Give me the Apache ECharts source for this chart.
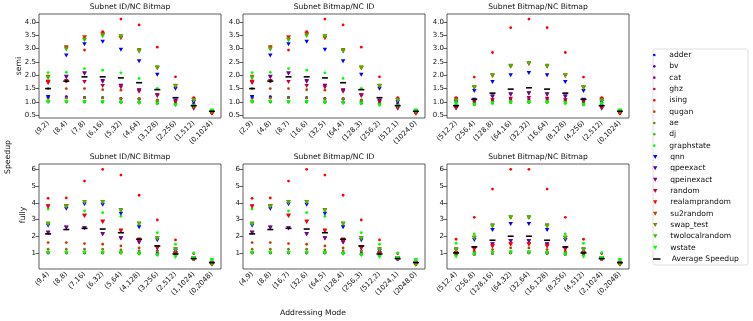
<!DOCTYPE html>
<html>
<head>
<meta charset="utf-8">
<script src="https://cdn.jsdelivr.net/npm/echarts@6.0.0/dist/echarts.min.js"></script>
<style>
html, body { margin: 0; padding: 0; background: #fff; }
#chart { width: 753px; height: 321px; }
</style>
</head>
<body>
<div id="chart"></div>
<script>
// benchmark names, in legend order (9 dot markers, then 9 triangle markers)
var names = ['adder', 'bv', 'cat', 'ghz', 'ising', 'qugan', 'ae', 'dj', 'graphstate',
  'qnn', 'qpeexact', 'qpeinexact', 'random', 'realamprandom', 'su2random', 'swap_test', 'twolocalrandom', 'wstate'];
var avgName = 'Average Speedup';
// brg colormap, 9 steps
var palette = ['#0000ff', '#4000bf', '#800080', '#bf0040', '#ff0000', '#bf4000', '#808000', '#40bf00', '#00ff00'];

var semiTicks = [0.5, 1.0, 1.5, 2.0, 2.5, 3.0, 3.5, 4.0];
var fullyTicks = [1, 2, 3, 4, 5, 6];

var catsSemiIdBm = ['(9,2)', '(8,4)', '(7,8)', '(6,16)', '(5,32)', '(4,64)', '(3,128)', '(2,256)', '(1,512)', '(0,1024)'];
var catsSemiBmId = ['(2,9)', '(4,8)', '(8,7)', '(16,6)', '(32,5)', '(64,4)', '(128,3)', '(256,2)', '(512,1)', '(1024,0)'];
var catsSemiBmBm = ['(512,2)', '(256,4)', '(128,8)', '(64,16)', '(32,32)', '(16,64)', '(8,128)', '(4,256)', '(2,512)', '(0,1024)'];
var catsFullyIdBm = ['(9,4)', '(8,8)', '(7,16)', '(6,32)', '(5,64)', '(4,128)', '(3,256)', '(2,512)', '(1,1024)', '(0,2048)'];
var catsFullyBmId = ['(4,9)', '(8,8)', '(16,7)', '(32,6)', '(64,5)', '(128,4)', '(256,3)', '(512,2)', '(1024,1)', '(2048,0)'];
var catsFullyBmBm = ['(512,4)', '(256,8)', '(128,16)', '(64,32)', '(32,64)', '(16,128)', '(8,256)', '(4,512)', '(2,1024)', '(0,2048)'];

// one row per benchmark (names order), last row = average speedup
var semiIdBm = [
  [1.20, 1.20, 1.17, 1.16, 1.13, 1.12, 1.06, 1.00, 1.02, 0.64],
  [1.18, 1.18, 1.16, 1.15, 1.12, 1.10, 1.04, 0.98, 0.95, 0.62],
  [1.02, 1.02, 1.02, 1.00, 1.00, 0.98, 0.96, 0.93, 0.85, 0.60],
  [1.00, 1.00, 1.00, 1.00, 0.99, 0.97, 0.95, 0.92, 0.82, 0.58],
  [1.78, 1.76, 2.94, 3.63, 4.10, 3.88, 3.05, 1.94, 1.16, 0.60],
  [1.50, 1.50, 1.50, 1.46, 1.44, 1.12, 1.08, 0.98, 0.80, 0.60],
  [1.13, 1.14, 1.16, 1.15, 1.12, 1.12, 1.06, 0.98, 0.90, 0.62],
  [1.00, 1.00, 1.00, 1.00, 0.98, 0.96, 0.94, 0.90, 0.85, 0.66],
  [2.10, 2.11, 2.25, 2.19, 2.09, 1.88, 1.51, 0.90, 0.82, 0.69],
  [1.19, 2.74, 3.16, 3.25, 2.95, 2.52, 2.02, 1.49, 1.00, 0.64],
  [1.76, 1.94, 2.06, 1.78, 1.61, 1.44, 1.25, 1.05, 0.82, 0.60],
  [1.74, 1.92, 2.06, 1.76, 1.60, 1.42, 1.22, 1.03, 0.80, 0.59],
  [1.71, 1.78, 1.75, 1.60, 1.54, 1.38, 1.25, 1.00, 0.75, 0.56],
  [1.75, 3.04, 3.41, 3.55, 3.39, 2.90, 2.26, 1.58, 1.08, 0.58],
  [1.94, 3.04, 3.41, 3.52, 3.39, 2.92, 2.27, 1.60, 1.06, 0.60],
  [1.93, 2.98, 3.33, 3.50, 3.46, 2.94, 2.29, 1.61, 1.06, 0.62],
  [1.89, 2.96, 3.31, 3.46, 3.46, 2.89, 2.29, 1.60, 1.05, 0.66],
  [1.00, 1.00, 1.00, 1.00, 0.98, 0.96, 0.94, 0.88, 0.84, 0.68],
  [1.50, 1.78, 1.94, 1.94, 1.90, 1.72, 1.46, 1.16, 0.86, 0.65]
];
var semiBmId = [
  [1.20, 1.20, 1.17, 1.16, 1.13, 1.12, 1.06, 1.00, 1.02, 0.64],
  [1.18, 1.18, 1.16, 1.15, 1.12, 1.10, 1.04, 0.98, 0.95, 0.62],
  [1.02, 1.02, 1.02, 1.00, 1.00, 0.98, 0.96, 0.93, 0.85, 0.60],
  [1.00, 1.00, 1.00, 1.00, 0.99, 0.97, 0.95, 0.92, 0.82, 0.58],
  [1.78, 1.76, 2.94, 3.63, 4.10, 3.88, 3.05, 1.94, 1.16, 0.60],
  [1.50, 1.50, 1.50, 1.46, 1.44, 1.12, 1.08, 0.98, 0.80, 0.60],
  [1.13, 1.14, 1.16, 1.15, 1.12, 1.12, 1.06, 0.98, 0.90, 0.62],
  [1.00, 1.00, 1.00, 1.00, 0.98, 0.96, 0.94, 0.90, 0.85, 0.66],
  [2.10, 2.11, 2.25, 2.19, 2.09, 1.88, 1.51, 0.90, 0.82, 0.69],
  [1.19, 2.74, 3.16, 3.25, 2.95, 2.52, 2.02, 1.49, 1.00, 0.64],
  [1.76, 1.94, 2.06, 1.78, 1.61, 1.44, 1.25, 1.05, 0.82, 0.60],
  [1.74, 1.92, 2.06, 1.76, 1.60, 1.42, 1.22, 1.03, 0.80, 0.59],
  [1.71, 1.78, 1.75, 1.60, 1.54, 1.38, 1.25, 1.00, 0.75, 0.56],
  [1.75, 3.04, 3.41, 3.55, 3.39, 2.90, 2.26, 1.58, 1.08, 0.58],
  [1.94, 3.04, 3.41, 3.52, 3.39, 2.92, 2.27, 1.60, 1.06, 0.60],
  [1.93, 2.98, 3.33, 3.50, 3.46, 2.94, 2.29, 1.61, 1.06, 0.62],
  [1.89, 2.96, 3.31, 3.46, 3.46, 2.89, 2.29, 1.60, 1.05, 0.66],
  [1.00, 1.00, 1.00, 1.00, 0.98, 0.96, 0.94, 0.88, 0.84, 0.68],
  [1.50, 1.78, 1.94, 1.94, 1.90, 1.72, 1.46, 1.16, 0.86, 0.65]
];
var semiBmBm = [
  [1.00, 1.05, 1.10, 1.12, 1.12, 1.12, 1.10, 1.05, 1.00, 0.64],
  [0.98, 1.02, 1.05, 1.08, 1.08, 1.08, 1.05, 1.02, 0.98, 0.62],
  [0.85, 0.92, 0.98, 1.00, 1.00, 1.00, 0.98, 0.92, 0.85, 0.60],
  [0.82, 0.90, 0.96, 0.98, 0.98, 0.98, 0.96, 0.90, 0.82, 0.58],
  [1.16, 1.93, 2.85, 3.78, 4.10, 3.78, 2.85, 1.93, 1.16, 0.60],
  [0.80, 0.98, 1.06, 1.12, 1.15, 1.12, 1.06, 0.98, 0.80, 0.60],
  [1.05, 1.05, 1.00, 1.02, 1.02, 1.02, 1.00, 1.05, 1.05, 0.62],
  [0.92, 0.92, 0.96, 0.98, 0.99, 0.98, 0.96, 0.92, 0.92, 0.66],
  [0.90, 0.90, 0.95, 0.98, 0.99, 0.98, 0.95, 0.90, 0.90, 0.69],
  [1.00, 1.41, 1.75, 2.00, 2.08, 2.00, 1.75, 1.41, 1.00, 0.64],
  [0.82, 1.08, 1.21, 1.29, 1.33, 1.29, 1.21, 1.08, 0.82, 0.60],
  [0.80, 1.06, 1.19, 1.27, 1.32, 1.27, 1.19, 1.06, 0.80, 0.59],
  [0.75, 0.98, 1.06, 1.12, 1.15, 1.12, 1.06, 0.98, 0.75, 0.56],
  [1.10, 1.52, 1.97, 2.32, 2.42, 2.32, 1.97, 1.52, 1.10, 0.58],
  [1.06, 1.54, 1.99, 2.34, 2.44, 2.34, 1.99, 1.54, 1.06, 0.60],
  [1.06, 1.55, 2.00, 2.35, 2.45, 2.35, 2.00, 1.55, 1.06, 0.62],
  [1.04, 1.53, 1.99, 2.34, 2.44, 2.34, 1.99, 1.53, 1.04, 0.66],
  [0.92, 0.90, 0.95, 0.98, 0.99, 0.98, 0.95, 0.90, 0.92, 0.68],
  [0.86, 1.10, 1.33, 1.48, 1.53, 1.48, 1.33, 1.10, 0.86, 0.65]
];
var fullyIdBm = [
  [1.05, 1.05, 1.05, 1.05, 1.05, 1.02, 1.00, 0.95, 0.66, 0.42],
  [1.03, 1.03, 1.03, 1.03, 1.02, 1.00, 0.95, 0.90, 0.64, 0.40],
  [1.00, 1.00, 1.00, 1.00, 1.00, 0.97, 0.92, 0.86, 0.62, 0.38],
  [1.00, 1.00, 1.00, 1.00, 1.00, 0.97, 0.90, 0.84, 0.60, 0.36],
  [4.27, 4.29, 5.30, 6.00, 5.66, 4.45, 2.97, 1.78, 0.96, 0.45],
  [1.62, 1.62, 1.56, 1.52, 1.42, 1.30, 1.14, 1.00, 0.60, 0.32],
  [1.22, 1.22, 1.22, 1.22, 1.18, 1.12, 1.10, 1.00, 0.64, 0.30],
  [1.05, 1.05, 1.05, 1.05, 1.04, 1.00, 0.92, 0.85, 0.68, 0.50],
  [3.63, 3.79, 3.51, 3.41, 3.19, 2.70, 2.21, 1.52, 1.00, 0.62],
  [2.63, 3.65, 3.91, 3.89, 3.35, 2.53, 1.76, 1.12, 0.68, 0.42],
  [2.23, 2.52, 2.48, 2.14, 1.88, 1.64, 1.30, 0.96, 0.66, 0.40],
  [2.20, 2.50, 2.47, 2.12, 1.86, 1.62, 1.28, 0.95, 0.65, 0.40],
  [3.79, 3.79, 3.21, 2.85, 2.35, 1.78, 1.32, 0.94, 0.64, 0.38],
  [3.77, 3.77, 3.24, 2.88, 2.32, 1.80, 1.36, 0.98, 0.66, 0.40],
  [2.75, 3.79, 4.03, 4.03, 3.55, 2.75, 1.88, 1.20, 0.64, 0.30],
  [2.74, 3.79, 4.05, 4.05, 3.55, 2.75, 1.88, 1.22, 0.66, 0.32],
  [2.72, 3.77, 4.02, 4.02, 3.52, 2.74, 1.86, 1.18, 0.68, 0.36],
  [1.00, 1.00, 1.00, 1.00, 1.00, 0.94, 0.86, 0.76, 0.70, 0.56],
  [2.14, 2.40, 2.47, 2.43, 2.21, 1.82, 1.42, 0.94, 0.66, 0.42]
];
var fullyBmId = [
  [1.05, 1.05, 1.05, 1.05, 1.05, 1.02, 1.00, 0.95, 0.66, 0.42],
  [1.03, 1.03, 1.03, 1.03, 1.02, 1.00, 0.95, 0.90, 0.64, 0.40],
  [1.00, 1.00, 1.00, 1.00, 1.00, 0.97, 0.92, 0.86, 0.62, 0.38],
  [1.00, 1.00, 1.00, 1.00, 1.00, 0.97, 0.90, 0.84, 0.60, 0.36],
  [4.27, 4.29, 5.30, 6.00, 5.66, 4.45, 2.97, 1.78, 0.96, 0.45],
  [1.62, 1.62, 1.56, 1.52, 1.42, 1.30, 1.14, 1.00, 0.60, 0.32],
  [1.22, 1.22, 1.22, 1.22, 1.18, 1.12, 1.10, 1.00, 0.64, 0.30],
  [1.05, 1.05, 1.05, 1.05, 1.04, 1.00, 0.92, 0.85, 0.68, 0.50],
  [3.63, 3.79, 3.51, 3.41, 3.19, 2.70, 2.21, 1.52, 1.00, 0.62],
  [2.63, 3.65, 3.91, 3.89, 3.35, 2.53, 1.76, 1.12, 0.68, 0.42],
  [2.23, 2.52, 2.48, 2.14, 1.88, 1.64, 1.30, 0.96, 0.66, 0.40],
  [2.20, 2.50, 2.47, 2.12, 1.86, 1.62, 1.28, 0.95, 0.65, 0.40],
  [3.79, 3.79, 3.21, 2.85, 2.35, 1.78, 1.32, 0.94, 0.64, 0.38],
  [3.77, 3.77, 3.24, 2.88, 2.32, 1.80, 1.36, 0.98, 0.66, 0.40],
  [2.75, 3.79, 4.03, 4.03, 3.55, 2.75, 1.88, 1.20, 0.64, 0.30],
  [2.74, 3.79, 4.05, 4.05, 3.55, 2.75, 1.88, 1.22, 0.66, 0.32],
  [2.72, 3.77, 4.02, 4.02, 3.52, 2.74, 1.86, 1.18, 0.68, 0.36],
  [1.00, 1.00, 1.00, 1.00, 1.00, 0.94, 0.86, 0.76, 0.70, 0.56],
  [2.14, 2.40, 2.47, 2.43, 2.21, 1.82, 1.42, 0.94, 0.66, 0.42]
];
var fullyBmBm = [
  [1.05, 1.00, 1.04, 1.05, 1.05, 1.04, 1.00, 1.05, 0.66, 0.42],
  [1.00, 0.98, 1.02, 1.04, 1.04, 1.02, 0.98, 1.00, 0.64, 0.40],
  [0.90, 0.92, 0.98, 1.00, 1.00, 0.98, 0.92, 0.90, 0.62, 0.38],
  [0.88, 0.90, 0.96, 1.00, 1.00, 0.96, 0.90, 0.88, 0.60, 0.36],
  [1.82, 3.13, 4.82, 6.00, 6.00, 4.82, 3.13, 1.82, 0.96, 0.45],
  [0.92, 1.10, 1.20, 1.30, 1.30, 1.20, 1.10, 0.92, 0.60, 0.32],
  [1.10, 1.00, 1.00, 1.08, 1.08, 1.00, 1.00, 1.10, 0.64, 0.30],
  [0.95, 0.92, 1.00, 1.02, 1.02, 1.00, 0.92, 0.95, 0.68, 0.50],
  [1.58, 2.14, 2.62, 3.10, 3.10, 2.62, 2.14, 1.58, 1.02, 0.62],
  [1.16, 1.78, 2.37, 2.73, 2.73, 2.37, 1.78, 1.16, 0.68, 0.42],
  [0.98, 1.30, 1.52, 1.72, 1.72, 1.52, 1.30, 0.98, 0.66, 0.40],
  [0.96, 1.28, 1.50, 1.70, 1.70, 1.50, 1.28, 0.96, 0.65, 0.40],
  [0.94, 1.20, 1.38, 1.52, 1.52, 1.38, 1.20, 0.94, 0.64, 0.38],
  [0.98, 1.26, 1.40, 1.50, 1.50, 1.40, 1.26, 0.98, 0.66, 0.40],
  [1.20, 1.90, 2.60, 3.10, 3.10, 2.60, 1.90, 1.20, 0.64, 0.30],
  [1.22, 1.92, 2.65, 3.13, 3.13, 2.65, 1.92, 1.22, 0.66, 0.32],
  [1.18, 1.88, 2.60, 3.12, 3.12, 2.60, 1.88, 1.18, 0.68, 0.36],
  [0.78, 0.92, 1.00, 1.02, 1.02, 1.00, 0.92, 0.78, 0.70, 0.56],
  [1.00, 1.36, 1.76, 2.00, 2.00, 1.76, 1.36, 1.00, 0.66, 0.42]
];

var triPath = 'path://M0,0L10,0L5,9Z';
var dashPath = 'path://M0,0L10,0L10,2L0,2Z';
var font = 'DejaVu Sans';

var panels = [
  { title: 'Subnet ID/NC Bitmap', cats: catsSemiIdBm, rows: semiIdBm, left: 39, top: 14, h: 104, min: 0.4, max: 4.29, ticks: semiTicks, dec: 1 },
  { title: 'Subnet Bitmap/NC ID', cats: catsSemiBmId, rows: semiBmId, left: 243, top: 14, h: 104, min: 0.4, max: 4.29, ticks: semiTicks, dec: 1 },
  { title: 'Subnet Bitmap/NC Bitmap', cats: catsSemiBmBm, rows: semiBmBm, left: 447, top: 14, h: 104, min: 0.4, max: 4.29, ticks: semiTicks, dec: 1 },
  { title: 'Subnet ID/NC Bitmap', cats: catsFullyIdBm, rows: fullyIdBm, left: 39, top: 164, h: 105, min: 0.04, max: 6.32, ticks: fullyTicks, dec: 0 },
  { title: 'Subnet Bitmap/NC ID', cats: catsFullyBmId, rows: fullyBmId, left: 243, top: 164, h: 105, min: 0.04, max: 6.32, ticks: fullyTicks, dec: 0 },
  { title: 'Subnet Bitmap/NC Bitmap', cats: catsFullyBmBm, rows: fullyBmBm, left: 447, top: 164, h: 105, min: 0.04, max: 6.32, ticks: fullyTicks, dec: 0 }
];

var option = {
  animation: false,
  textStyle: { fontFamily: font },
  grid: [], xAxis: [], yAxis: [], series: [],
  legend: [
    { data: names.slice(0, 9), orient: 'vertical', left: 653, top: 50, padding: 0, itemWidth: 20, itemHeight: 2.6, itemGap: 1.33,
      selectedMode: false, textStyle: { fontSize: 7.6, lineHeight: 10, color: '#111', fontFamily: font } },
    { data: names.slice(9), orient: 'vertical', left: 653, top: 152, padding: 0, itemWidth: 20, itemHeight: 4, itemGap: 1.33,
      selectedMode: false, textStyle: { fontSize: 7.6, lineHeight: 10, color: '#111', fontFamily: font } },
    { data: [avgName], orient: 'vertical', left: 653, top: 254, padding: 0, itemWidth: 20, itemHeight: 1.5,
      selectedMode: false, textStyle: { fontSize: 7.6, lineHeight: 10, color: '#111', fontFamily: font } }
  ],
  graphic: [
    { type: 'rect', shape: { x: 653, y: 49, width: 95, height: 216, r: 2 }, style: { fill: '#fff', stroke: '#d5d5d5', lineWidth: 0.8 } },
    { type: 'text', x: 8, y: 157, rotation: Math.PI / 2, style: { text: 'Speedup', fontSize: 7.7, fontFamily: font, fill: '#111', align: 'center', verticalAlign: 'middle' } },
    { type: 'text', x: 313, y: 313, style: { text: 'Addressing Mode', fontSize: 7.7, fontFamily: font, fill: '#111', align: 'center', verticalAlign: 'middle' } },
    { type: 'text', x: 19, y: 66, rotation: Math.PI / 2, style: { text: 'semi', fontSize: 7.7, fontFamily: font, fill: '#111', align: 'center', verticalAlign: 'middle' } },
    { type: 'text', x: 23, y: 215, rotation: Math.PI / 2, style: { text: 'fully', fontSize: 7.7, fontFamily: font, fill: '#111', align: 'center', verticalAlign: 'middle' } }
  ]
};

panels.forEach(function (p, i) {
  option.grid.push({ left: p.left, top: p.top, width: 182, height: p.h, show: true, borderColor: '#333', borderWidth: 0.8,
    containLabel: false, outerBoundsMode: 'none' });
  option.graphic.push({ type: 'text', x: p.left + 91, y: p.top - 7, style: { text: p.title, fontSize: 7.6, fontFamily: font,
    fill: '#111', align: 'center', verticalAlign: 'middle' } });
  option.xAxis.push({
    type: 'category', gridIndex: i, data: p.cats, boundaryGap: true,
    axisLine: { show: false },
    axisTick: { alignWithLabel: true, length: 3.5, lineStyle: { color: '#333', width: 0.8 } },
    axisLabel: { rotate: 45, interval: 0, fontSize: 7, margin: 4, color: '#111', fontFamily: font },
    splitLine: { show: false }
  });
  option.yAxis.push({
    type: 'value', gridIndex: i, min: p.min, max: p.max,
    axisLine: { show: false },
    axisTick: { show: true, length: 3.5, customValues: p.ticks, lineStyle: { color: '#333', width: 0.8 } },
    axisLabel: { customValues: p.ticks, fontSize: 7, margin: 3, color: '#111', fontFamily: font,
      formatter: function (v) { return Number(v).toFixed(p.dec); } },
    splitLine: { show: false }
  });
  p.rows.forEach(function (vals, s) {
    var isAvg = s === names.length;
    var isDot = s < 9;
    option.series.push({
      type: 'scatter', name: isAvg ? avgName : names[s],
      xAxisIndex: i, yAxisIndex: i,
      symbol: isAvg ? dashPath : (isDot ? 'circle' : triPath),
      symbolSize: isAvg ? [6, 1.6] : (isDot ? 2.8 : [4.5, 4]),
      itemStyle: { color: isAvg ? '#000' : palette[s % 9], opacity: 1 },
      emphasis: { disabled: true },
      data: vals.map(function (v, k) { return [k, v]; })
    });
  });
});

var chart = echarts.init(document.getElementById('chart'), null, { renderer: 'canvas' });
chart.setOption(option);
</script>
</body>
</html>
